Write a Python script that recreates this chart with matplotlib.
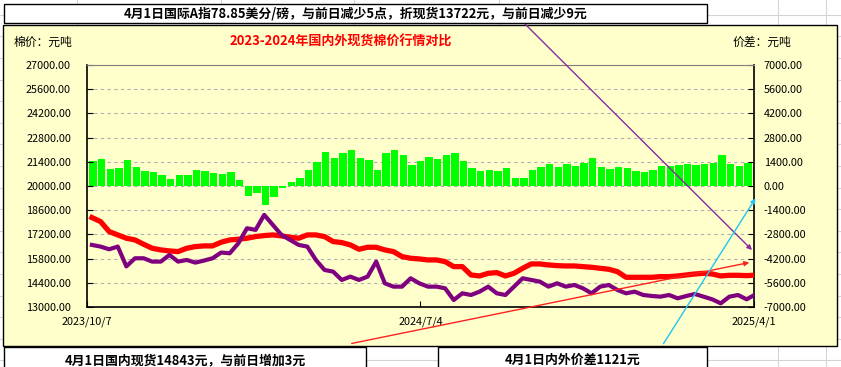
import numpy as np
import pandas as pd
import matplotlib
matplotlib.use('Agg')
import matplotlib.pyplot as plt
from matplotlib.patches import Rectangle, FancyArrowPatch
from matplotlib.lines import Line2D

plt.rcParams['font.family'] = ['Noto Sans CJK SC', 'DejaVu Sans']

# weekly readings (week starting Monday)
week_start = pd.date_range('2023-10-09', periods=78, freq='7D')

# 国内现货 (元/吨)
domestic = [18175, 17943, 17364, 17170, 16978, 16881, 16630, 16398, 16302, 16244,
            16205, 16398, 16495, 16534, 16534, 16746, 16881, 16920, 16978, 17074,
            17132, 17170, 17113, 17036, 16978, 17170, 17170, 17074, 16785, 16727,
            16592, 16340, 16456, 16456, 16302, 16205, 15916, 15819, 15781, 15723,
            15723, 15626, 15336, 15336, 14854, 14796, 14950, 14989, 14796, 14950,
            15240, 15491, 15491, 15433, 15394, 15375, 15375, 15336, 15298, 15240,
            15182, 15047, 14718, 14718, 14718, 14718, 14757, 14757, 14796, 14854,
            14911, 14950, 14911, 14796, 14834, 14834, 14815, 14843]

# 国际A指折现货 (元/吨)
international = [16592, 16495, 16340, 16495, 15350, 15819, 15819, 15626, 15626, 16012,
                 15626, 15723, 15568, 15684, 15819, 16150, 16109, 16688, 17557, 17460,
                 18330, 17750, 17170, 16881, 16592, 16495, 15723, 15143, 15047, 14564,
                 14757, 14564, 14757, 15626, 14371, 14178, 14178, 14661, 14371, 14178,
                 14178, 14081, 13405, 13792, 13695, 13888, 14178, 13792, 13695, 14178,
                 14661, 14564, 14468, 14178, 14371, 14178, 14274, 14081, 13792, 14178,
                 14274, 13985, 13792, 13888, 13695, 13637, 13598, 13695, 13502, 13637,
                 13753, 13598, 13444, 13212, 13598, 13695, 13444, 13722]

# 内外价差 (元/吨)
spread = [1450, 1560, 1000, 1020, 1500, 1120, 890, 790, 640, 400,
          620, 640, 930, 890, 770, 700, 790, 350, -600, -425,
          -1100, -650, -135, 250, 440, 930, 1410, 1990, 1600, 1890,
          2080, 1600, 1500, 930, 1890, 2085, 1800, 1220, 1470, 1660,
          1550, 1800, 1890, 1470, 1020, 890, 930, 890, 1020, 440,
          440, 930, 1120, 1270, 1120, 1270, 1160, 1350, 1600, 1080,
          970, 1120, 1020, 890, 830, 930, 1160, 1160, 1220, 1270,
          1220, 1270, 1350, 1800, 1270, 1160, 1350, 1121]

left_ticks = np.arange(13000, 27001, 1400)
right_ticks = np.arange(-7000, 7001, 1400)
x_ticks = pd.to_datetime(['2023-10-07', '2024-07-04', '2025-04-01'])
x_labels = ['2023/10/7', '2024/7/4', '2025/4/1']

W, H = 841, 367
fig = plt.figure(figsize=(W / 100, H / 100), dpi=100)
fig.patch.set_facecolor('white')


def fx(px):
    return px / W


def fy(py):
    return 1 - py / H


# spreadsheet cell lines behind the chart
for x in [77, 221, 354, 499, 778, 826]:
    fig.add_artist(Line2D([fx(x)] * 2, [0, 1], color='#d4d4d4', lw=0.8, zorder=0))
for y in np.arange(-6.8, 370, 21.6):
    fig.add_artist(Line2D([0, 1], [fy(y)] * 2, color='#d4d4d4', lw=0.8, zorder=0))

# chart area
fig.add_artist(Rectangle((fx(3), fy(346)), fx(837) - fx(3), fy(25) - fy(346),
                         transform=fig.transFigure, facecolor='#FFFFCC',
                         edgecolor='black', lw=1, zorder=0.5))

rect = [fx(87), fy(307), fx(754) - fx(87), fy(65) - fy(307)]
ax = fig.add_axes(rect)
ax2 = ax.twinx()
ax.set_zorder(2)
ax2.set_zorder(1)
ax.patch.set_visible(False)
ax2.patch.set_visible(False)

# price spread bars on right axis
ax2.bar(week_start, spread, width=6, align='edge', color='#00FF00', zorder=2)
ax2.set_ylim(-7000, 7000)
ax2.set_yticks(right_ticks)
ax2.set_yticklabels(['%.2f' % v for v in right_ticks])
ax2.grid(axis='y', color='#b0b0b0', ls=(0, (3, 3)), lw=0.8)
ax2.set_axisbelow(True)
ax2.tick_params(axis='y', direction='in', length=4, pad=7, labelsize=7.8, colors='black')
for s in ax2.spines.values():
    s.set_visible(False)

# price lines on left axis
mid_week = week_start + pd.Timedelta(days=2)
ax.plot(mid_week, domestic, color='#FF0000', lw=3.8, solid_joinstyle='round', zorder=3)
ax.plot(mid_week, international, color='#7F007F', lw=3.0, solid_joinstyle='round', zorder=4)
ax.set_ylim(13000, 27000)
ax.set_yticks(left_ticks)
ax.set_yticklabels(['%.2f' % v for v in left_ticks])
ax.tick_params(axis='y', direction='in', length=4, pad=11.5, labelsize=7.8)
ax.set_xlim(x_ticks[0], x_ticks[-1])
ax.set_xticks(x_ticks)
ax.set_xticklabels(x_labels)
ax.tick_params(axis='x', direction='in', length=4, pad=7, labelsize=7.8)
for side in ['left', 'bottom', 'right']:
    ax.spines[side].set_color('black')
    ax.spines[side].set_linewidth(1.2)
ax.spines['top'].set_color('#808080')

# chart texts
fig.text(fx(14), fy(42), '棉价：元吨', fontsize=8.5, va='center', ha='left', zorder=7)
fig.text(fx(733), fy(42), '价差：元吨', fontsize=8.5, va='center', ha='left', zorder=7)
fig.text(fx(341), fy(42), '2023-2024年国内外现货棉价行情对比', fontsize=9.4,
         fontweight='bold', color='#FF0000', va='center', ha='center', zorder=7)

# drawn arrows on the sheet
arrows = [((521, 20), (754, 252), '#8B2C9E'),
          ((349, 344), (752, 262), '#FF2020'),
          ((662, 346), (757, 196), '#22C4F0')]
for (x0, y0), (x1, y1), c in arrows:
    fig.add_artist(FancyArrowPatch((fx(x0), fy(y0)), (fx(x1), fy(y1)),
                                   transform=fig.transFigure, arrowstyle='-|>',
                                   mutation_scale=7, color=c, lw=1, zorder=5))

# text boxes
boxes = [((4, 4, 707, 23), '4月1日国际A指78.85美分/磅，与前日减少5点，折现货13722元，与前日减少9元', 14),
         ((4, 347, 366, 372), '4月1日国内现货14843元，与前日增加3元', 360),
         ((438, 347, 707, 372), '4月1日内外价差1121元', 360)]
for (x0, y0, x1, y1), txt, ty in boxes:
    fig.add_artist(Rectangle((fx(x0), fy(y1)), fx(x1) - fx(x0), fy(y0) - fy(y1),
                             transform=fig.transFigure, facecolor='white',
                             edgecolor='black', lw=1, zorder=6))
    fig.text((fx(x0) + fx(x1)) / 2, fy(ty), txt, fontsize=9.3, fontweight='bold',
             ha='center', va='center', zorder=7)

fig.savefig('out.png', dpi=100)
